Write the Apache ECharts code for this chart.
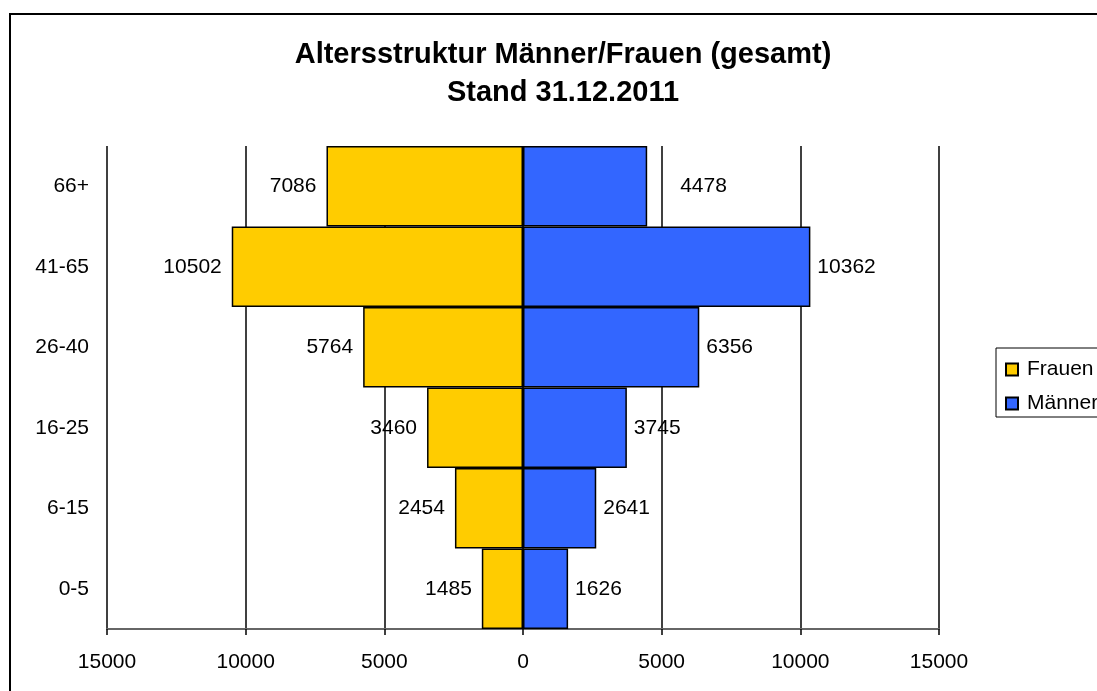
<!DOCTYPE html>
<html>
<head>
<meta charset="utf-8">
<script src="https://cdn.jsdelivr.net/npm/echarts@6/dist/echarts.min.js"></script>
<style>
  html, body {margin: 0; padding: 0; background: #fff;}
  #chart {width: 1097px; height: 691px;}
</style>
</head>
<body>
<div id="chart"></div>
<script>
const ageGroups = ['0-5', '6-15', '16-25', '26-40', '41-65', '66+'];
const frauen = [1485, 2454, 3460, 5764, 10502, 7086];
const maenner = [1626, 2641, 3745, 6356, 10362, 4478];

const font = '"Liberation Sans", Arial, sans-serif';
const chart = echarts.init(document.getElementById('chart'));

chart.setOption({
  animation: false,
  backgroundColor: '#fff',
  textStyle: {fontFamily: font},
  title: {
    text: 'Altersstruktur Männer/Frauen (gesamt)\nStand 31.12.2011',
    left: 558,
    top: 31,
    textAlign: 'center',
    textStyle: {fontFamily: font, fontSize: 29, fontWeight: 'bold', color: '#000', lineHeight: 38}
  },
  legend: {
    orient: 'vertical',
    left: 996,
    top: 348,
    padding: [11, 20, 3, 9],
    icon: 'rect',
    itemWidth: 12,
    itemHeight: 12,
    itemGap: 13,
    borderColor: '#000',
    borderWidth: 1,
    textStyle: {fontFamily: font, fontSize: 21, color: '#000', padding: [0, 0, 0, 4]},
    data: ['Frauen', 'Männer']
  },
  grid: {left: 107, right: 158, top: 146, bottom: 62},
  xAxis: {
    type: 'value',
    min: -15000,
    max: 15000,
    interval: 5000,
    axisLine: {show: true, lineStyle: {color: '#666', width: 2}},
    axisTick: {show: true, length: 6, lineStyle: {color: '#000', width: 1.5}},
    splitLine: {show: true, lineStyle: {color: '#000', width: 1.5}},
    axisLabel: {
      fontSize: 21,
      color: '#000',
      margin: 23,
      formatter: v => String(Math.abs(v))
    }
  },
  yAxis: {
    type: 'category',
    data: ageGroups,
    axisLine: {show: false, onZero: false},
    axisTick: {show: false},
    axisLabel: {fontSize: 21, color: '#000', margin: 18}
  },
  series: [{
    name: 'Frauen',
    type: 'bar',
    data: frauen.map(v => -v),
    barWidth: '100%',
    barGap: '-100%',
    itemStyle: {color: '#FFCC00', borderColor: '#000', borderWidth: 1.5},
    label: {
      show: true,
      position: 'left',
      distance: 10,
      fontSize: 21,
      color: '#000',
      formatter: p => String(Math.abs(p.value))
    }
  }, {
    name: 'Männer',
    type: 'bar',
    data: maenner.map((v, i) => i === 5 ? {value: v, label: {distance: 33}} : v),
    barWidth: '100%',
    itemStyle: {color: '#3366FF', borderColor: '#000', borderWidth: 1.5},
    label: {
      show: true,
      position: 'right',
      distance: 7,
      fontSize: 21,
      color: '#000'
    }
  }],
  graphic: [{
    type: 'rect',
    shape: {x: 10, y: 14, width: 1200, height: 800},
    style: {fill: 'none', stroke: '#000', lineWidth: 2},
    silent: true
  }]
});
</script>
</body>
</html>
